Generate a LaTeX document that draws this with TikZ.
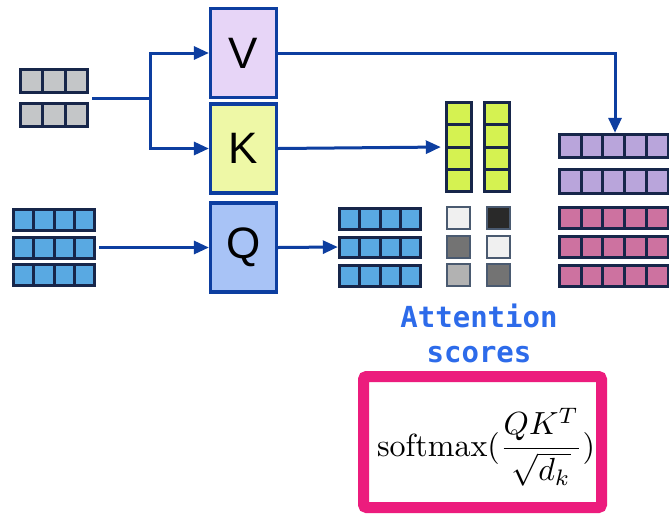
\documentclass[tikz,border=0pt]{standalone}
\usepackage{fontspec}
\usepackage{graphicx}
\usetikzlibrary{arrows.meta}
\newfontfamily\attfont{DejaVu Sans Mono}
\newfontfamily\boxfont{Liberation Sans}
\definecolor{conncol}{HTML}{0D3EA0}
\definecolor{navy}{HTML}{17264A}
\definecolor{vfill}{HTML}{E7D5F7}
\definecolor{kfill}{HTML}{EEF8A6}
\definecolor{qfill}{HTML}{A8C3F6}
\definecolor{grayc}{HTML}{C4C6C8}
\definecolor{bluec}{HTML}{59A9E2}
\definecolor{yelc}{HTML}{D5F251}
\definecolor{purc}{HTML}{B9A5DB}
\definecolor{pinkc}{HTML}{CD72A0}
\definecolor{sqb}{HTML}{4A5A70}
\definecolor{attcol}{HTML}{2D6BEA}
\definecolor{magbox}{HTML}{EC1C7D}
\newcommand\mrow[6]{\foreach \i in {1,...,#3}{\draw[cellb,fill=#6] ({#1+(\i-1)*#4},#2) rectangle ++(#4,#5);}}
\newcommand\mcol[6]{\foreach \i in {1,...,#3}{\draw[cellb,fill=#6] (#1,{#2+(\i-1)*#5}) rectangle ++(#4,#5);}}
\begin{document}
\begin{tikzpicture}[x=1pt,y=-1pt,
  qkv/.style={draw=conncol,line width=3.2pt,minimum width=66pt,minimum height=89pt,inner sep=0pt,font=\boxfont\fontsize{44}{44}\selectfont},
  cellb/.style={draw=navy,line width=3pt},
  sq/.style={draw=sqb,line width=2.4pt},
  hold/.style={inner sep=0pt,draw=none},
  conn/.style={draw=conncol,line width=3pt,-{Triangle[length=15pt,width=13pt]}},
  plain/.style={draw=conncol,line width=3pt},
  att/.style={text=attcol,font=\attfont\bfseries\fontsize{29}{35}\selectfont,align=center},
  fbox/.style={draw=magbox,line width=11pt,rounded corners=3pt,minimum width=238pt,minimum height=131pt,inner sep=0pt}]
\clip (0,0) rectangle (669,515);
\fill[white] (0,0) rectangle (669,515);
% boxes
\node[qkv,fill=vfill] (V) at (243.5,53) {V};
\node[qkv,fill=kfill] (K) at (243.5,148.5) {K};
\node[qkv,fill=qfill] (Q) at (243.5,247.5) {Q};
% gray input
\mrow{20.5}{69.5}{3}{22.33}{23}{grayc}
\mrow{20.5}{103.5}{3}{22.33}{23}{grayc}
\node[hold,minimum width=70pt,minimum height=61pt] (gin) at (54,98.5) {};
% blue input
\mrow{13.5}{209.5}{4}{20.25}{20.5}{bluec}
\mrow{13.5}{237.5}{4}{20.25}{20.5}{bluec}
\mrow{13.5}{264.5}{4}{20.25}{21}{bluec}
\node[hold,minimum width=84pt,minimum height=79pt] (qin) at (54,247.5) {};
% blue query matrix
\mrow{339.5}{208.5}{4}{20.25}{21}{bluec}
\mrow{339.5}{237.5}{4}{20.25}{20}{bluec}
\mrow{339.5}{265.5}{4}{20.25}{20.5}{bluec}
\node[hold,minimum width=84pt,minimum height=80pt] (qm) at (380,247) {};
% yellow key columns
\mcol{446.5}{102.5}{4}{25}{22.25}{yelc}
\mcol{484.5}{102.5}{4}{25}{22.25}{yelc}
\node[hold,minimum width=66pt,minimum height=92pt] (kt) at (478,147) {};
% gray score squares
\draw[sq,fill=black!6]  (447,207) rectangle (470,229);
\draw[sq,fill=black!55] (447,236) rectangle (470,258);
\draw[sq,fill=black!30] (447,264) rectangle (470,286);
\draw[sq,fill=black!84] (487,207) rectangle (510,229);
\draw[sq,fill=black!6]  (487,236) rectangle (510,258);
\draw[sq,fill=black!55] (487,264) rectangle (510,286);
% purple value rows
\mrow{559.5}{134.5}{6}{21.7}{23}{purc}
\mrow{559.5}{169.5}{6}{21.7}{24}{purc}
\node[hold,minimum width=114pt,minimum height=62pt] (pv) at (615,164) {};
% pink output rows
\mrow{559.5}{207.5}{6}{21.7}{21}{pinkc}
\mrow{559.5}{236.5}{6}{21.7}{21}{pinkc}
\mrow{559.5}{265.5}{6}{21.7}{21}{pinkc}
% connectors
\coordinate (split) at (150,98.5);
\draw[plain,shorten <=3pt] (gin.east) -- (split);
\draw[conn] (split) |- (V.west);
\draw[conn] (split) |- (K.west);
\draw[conn,shorten <=3pt] (qin.east) -- (Q.west);
\draw[conn] (V.east) -| (pv.north);
\draw[conn,shorten >=4pt] (K.east) -- (kt.west);
\draw[conn] (Q.east) -- (qm.west);
% label
\node[att] (att) at (479,333) {Attention\\scores};
% formula
\node[fbox] (fb) at (482.5,442) {};
\node[inner sep=0pt] (formula) at (486,447) {\scalebox{3.2}{$\displaystyle\mathrm{softmax}(\frac{QK^T}{\sqrt{d_k}})$}};
\end{tikzpicture}
\end{document}
